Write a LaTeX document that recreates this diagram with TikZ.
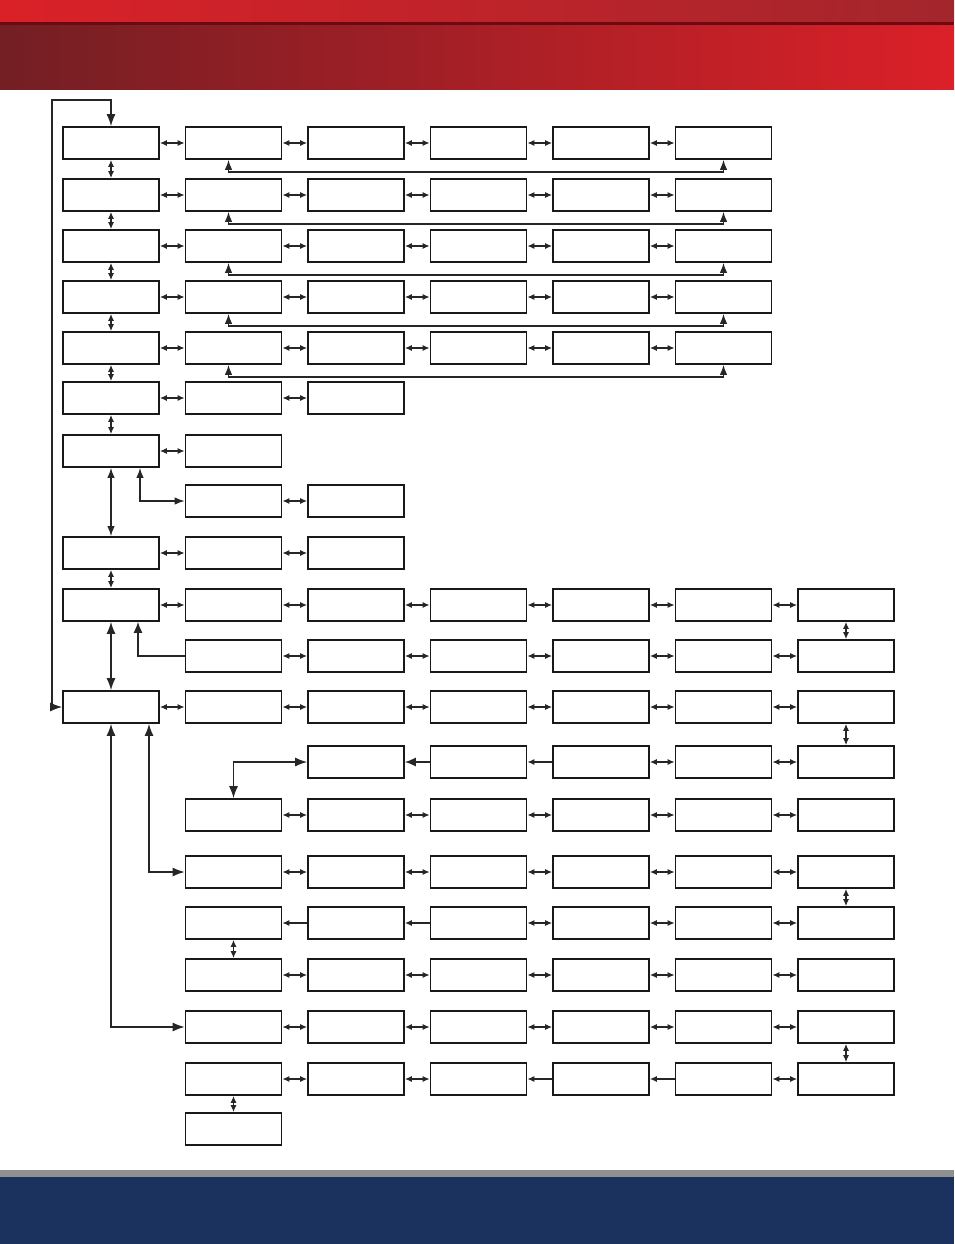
\documentclass[tikz,border=0pt]{standalone}
\usetikzlibrary{arrows.meta}
\definecolor{topL}{HTML}{DA2128}
\definecolor{topR}{HTML}{A3262C}
\definecolor{topLine}{HTML}{6B0A10}
\definecolor{bandL}{HTML}{731F24}
\definecolor{bandR}{HTML}{DB2028}
\definecolor{footGray}{HTML}{909090}
\definecolor{footNavy}{HTML}{1C325E}
\tikzset{
  box/.style={draw=black!90, line width=1.7pt, minimum width=96pt, minimum height=32pt, inner sep=0pt},
  dbl/.style={line width=1.3pt, draw=black!85, {Latex[length=7pt,width=6pt]}-{Latex[length=7pt,width=6pt]}},
  sgl/.style={line width=1.3pt, draw=black!85, -{Latex[length=7pt,width=6pt]}},
  middbl/.style={line width=1.3pt, draw=black!85, {Latex[length=10pt,width=7.5pt]}-{Latex[length=10pt,width=7.5pt]}},
  bigdbl/.style={line width=1.3pt, draw=black!85, {Latex[length=12pt,width=9pt]}-{Latex[length=12pt,width=9pt]}},
  bigsgl/.style={line width=1.3pt, draw=black!85, -{Latex[length=11pt,width=9pt]}}
}
\begin{document}
\begin{tikzpicture}[x=1pt, y=-1pt]
  \useasboundingbox (0,0) rectangle (954,1244);

  % header bands
  \shade[left color=topL, right color=topR] (0,0) rectangle (954,22);
  \fill[topLine] (0,22) rectangle (954,26);
  \shade[left color=bandL, right color=bandR] (0,26) rectangle (954,90);

  % footer bands
  \fill[footGray] (0,1170) rectangle (954,1177);
  \fill[footNavy] (0,1177) rectangle (954,1244);

  % menu boxes: row / y / first column / last column
  \foreach \r/\y/\a/\b in {0/143/0/5, 1/195/0/5, 2/246/0/5, 3/297/0/5, 4/348/0/5,
      5/398/0/2, 6/451/0/1, 7/501/1/2, 8/553/0/2, 9/605/0/6, 10/656/1/6,
      11/707/0/6, 12/762/2/6, 13/815/1/6, 14/872/1/6, 15/923/1/6, 16/975/1/6,
      17/1027/1/6, 18/1079/1/6, 19/1129/1/1} {
    \foreach \c in {\a,...,\b}
      \node[box] (r\r-\c) at ({111+122.5*\c},\y) {};
  }

  % two-way links along a row
  \foreach \r/\a/\b in {0/0/5, 1/0/5, 2/0/5, 3/0/5, 4/0/5, 5/0/2, 6/0/1, 7/1/2,
      8/0/2, 9/0/6, 10/1/6, 11/0/6, 13/1/6, 14/1/6, 16/1/6, 17/1/6} {
    \pgfmathtruncatemacro\e{\b-1}
    \foreach \c in {\a,...,\e} {
      \pgfmathtruncatemacro\n{\c+1}
      \draw[dbl] (r\r-\c.east) -- (r\r-\n.west);
    }
  }

  % rows with one-way links
  \draw[bigsgl] (r12-3.west) -- (r12-2.east);
  \draw[sgl] (r12-4.west) -- (r12-3.east);
  \draw[dbl] (r12-4.east) -- (r12-5.west);
  \draw[dbl] (r12-5.east) -- (r12-6.west);
  \draw[sgl] (r15-2.west) -- (r15-1.east);
  \draw[sgl] (r15-3.west) -- (r15-2.east);
  \draw[dbl] (r15-3.east) -- (r15-4.west);
  \draw[dbl] (r15-4.east) -- (r15-5.west);
  \draw[dbl] (r15-5.east) -- (r15-6.west);
  \draw[dbl] (r18-1.east) -- (r18-2.west);
  \draw[dbl] (r18-2.east) -- (r18-3.west);
  \draw[sgl] (r18-4.west) -- (r18-3.east);
  \draw[sgl] (r18-5.west) -- (r18-4.east);
  \draw[dbl] (r18-5.east) -- (r18-6.west);

  % return lines under the top rows
  \foreach \r in {0,...,4}
    \draw[middbl] ([xshift=-5pt]r\r-1.south) -- ++(0,12) -| (r\r-5.south);

  % left column
  \foreach \r in {0,...,5} {
    \pgfmathtruncatemacro\n{\r+1}
    \draw[dbl] (r\r-0.south) -- (r\n-0.north);
  }
  \draw[middbl] (r6-0.south) -- (r8-0.north);
  \draw[dbl] (r8-0.south) -- (r9-0.north);
  \draw[bigdbl] (r9-0.south) -- (r11-0.north);

  % right column and short verticals
  \draw[dbl] (r9-6.south) -- (r10-6.north);
  \draw[dbl] (r11-6.south) -- (r12-6.north);
  \draw[dbl] (r14-6.south) -- (r15-6.north);
  \draw[dbl] (r17-6.south) -- (r18-6.north);
  \draw[dbl] (r15-1.south) -- (r16-1.north);
  \draw[dbl] (r18-1.south) -- (r19-1.north);

  % bent links
  \coordinate (loopTL) at (52,100);
  \draw[bigdbl] (r0-0.north) |- (loopTL) |- (r11-0.west);
  \draw[middbl] ([xshift=29pt]r6-0.south) |- (r7-1.west);
  \draw[bigsgl] (r10-1.west) -| ([xshift=27pt]r9-0.south);
  \draw[bigdbl] ([xshift=38pt]r11-0.south) |- (r14-1.west);
  \draw[bigdbl] (r11-0.south) |- (r17-1.west);
  \draw[bigdbl] (r12-2.west) -| (r13-1.north);
\end{tikzpicture}
\end{document}
